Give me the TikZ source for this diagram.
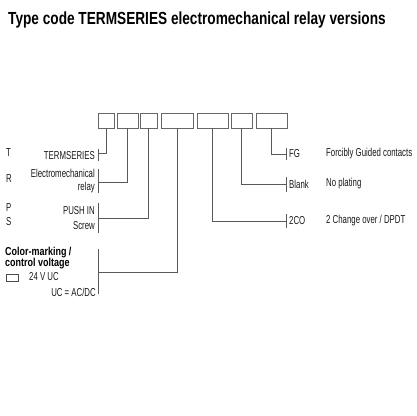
\documentclass[tikz,border=0pt]{standalone}
\usepackage{fontspec}
\setmainfont{Liberation Sans}[FakeStretch=0.68]
\newfontfamily\headfont{Liberation Sans}[FakeStretch=0.78]
\usetikzlibrary{positioning}

\begin{document}
\begin{tikzpicture}[x=1pt, y=-1pt,
  box/.style={draw=black!60, line width=0.9pt, minimum height=15, inner sep=0pt},
  conn/.style={draw=black!65, line width=0.8pt},
  lbl/.style={inner sep=0pt, text=black!90, font=\fontsize{11.5}{13}\selectfont},
  head/.style={inner sep=0pt, anchor=west, font=\headfont\fontsize{11.5}{13}\selectfont\bfseries}]
  \useasboundingbox (0,0) rectangle (416,416);

  % Title
  \node[anchor=west, inner sep=0pt, font=\headfont\fontsize{17.5}{19}\selectfont\bfseries] (title) at (8,20)
    {Type code TERMSERIES electromechanical relay versions};

  % Code boxes
  \node[box, minimum width=16] (b1) at (106,120.5) {};
  \node[box, minimum width=21] (b2) at (127.5,120.5) {};
  \node[box, minimum width=17] (b3) at (148.5,120.5) {};
  \node[box, minimum width=32] (b4) at (177,120.5) {};
  \node[box, minimum width=31] (b5) at (212.5,120.5) {};
  \node[box, minimum width=21] (b6) at (241.5,120.5) {};
  \node[box, minimum width=31] (b7) at (271.5,120.5) {};

  % Left side: series
  \coordinate (t1) at (98,153);
  \draw[conn] (b1.south) |- (t1);
  \draw[conn] (98,149) -- (98,161);
  \node[lbl, anchor=west] (kT) at (6,153) {T};
  \node[lbl, anchor=east] (lT) at (95,156) {TERMSERIES};

  % Left side: relay type
  \coordinate (t2) at (98,182);
  \draw[conn] (b2.south) |- (t2);
  \draw[conn] (98,169) -- (98,193);
  \node[lbl, anchor=west] (kR) at (6,179) {R};
  \node[lbl, anchor=east] (lR1) at (95,173) {Electromechanical};
  \node[lbl, anchor=east] (lR2) at (95,188) {relay};

  % Left side: connection
  \coordinate (t3) at (98,218);
  \draw[conn] (b3.south) |- (t3);
  \draw[conn] (98,203) -- (98,233);
  \node[lbl, anchor=west] (kP) at (6,208) {P};
  \node[lbl, anchor=west] (kS) at (6,222) {S};
  \node[lbl, anchor=east] (lP) at (95,211) {PUSH IN};
  \node[lbl, anchor=east] (lS) at (95,226) {Screw};

  % Left side: colour / voltage
  \coordinate (t4) at (98,272);
  \draw[conn] (b4.south) |- (t4);
  \draw[conn] (98,249) -- (98,294);
  \node[head] (lC1) at (5,253) {Color-marking /};
  \node[head] (lC2) at (5,264) {control voltage};
  \draw[black!70, line width=0.8pt] (6,274) rectangle (18,281);
  \node[lbl, anchor=west] (lV) at (29,277) {24 V UC};
  \node[lbl, anchor=east] (lUC) at (96,292) {UC = AC/DC};

  % Right side: contacts
  \coordinate (r7) at (286,154);
  \draw[conn] (b7.south) |- (r7);
  \draw[conn] (286,148) -- (286,160);
  \node[lbl, anchor=west] (kFG) at (289,154) {FG};
  \node[lbl, anchor=west] (dFG) at (326,154) {Forcibly Guided contacts};

  % Right side: plating
  \coordinate (r6) at (286,184);
  \draw[conn] (b6.south) |- (r6);
  \draw[conn] (286,177) -- (286,192);
  \node[lbl, anchor=west] (kBl) at (289,184) {Blank};
  \node[lbl, anchor=west] (dBl) at (326,184) {No plating};

  % Right side: contact set
  \coordinate (r5) at (286,221);
  \draw[conn] (b5.south) |- (r5);
  \draw[conn] (286,214) -- (286,228);
  \node[lbl, anchor=west] (k2C) at (289,221) {2CO};
  \node[lbl, anchor=west] (d2C) at (326,221) {2 Change over / DPDT};
\end{tikzpicture}
\end{document}
